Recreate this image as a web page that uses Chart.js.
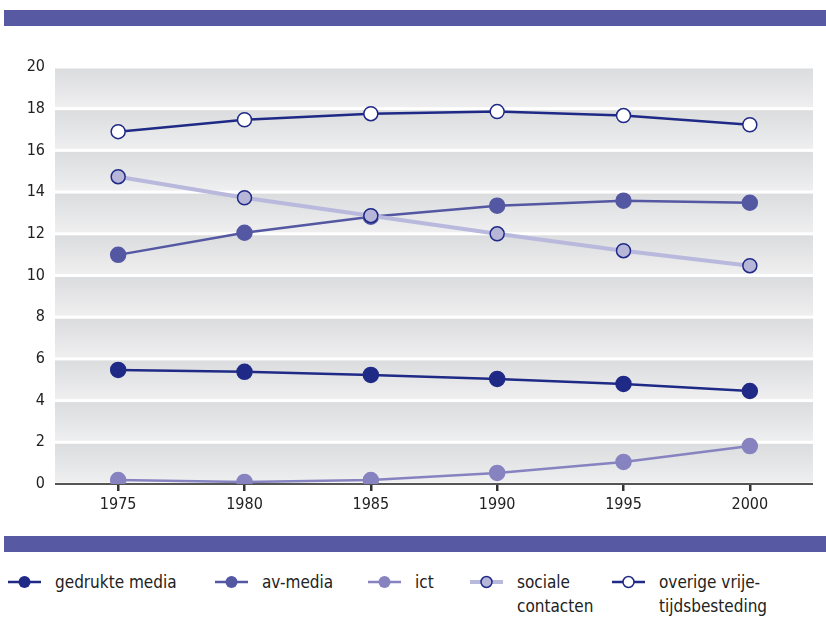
<!DOCTYPE html>
<html>
<head>
<meta charset="utf-8">
<script src="https://cdn.jsdelivr.net/npm/chart.js@4/dist/chart.umd.min.js"></script>
<style>
  html, body { margin: 0; padding: 0; background: #fff; }
  body { width: 826px; height: 618px; position: relative; overflow: hidden;
         font-family: 'Liberation Sans Narrow', 'DejaVu Sans Condensed', sans-serif; color: #222; }
  .bar { position: absolute; left: 4px; right: 0; height: 16px; background: #575aa3; }
  #chartBox { position: absolute; left: 0; top: 0; width: 826px; height: 530px; }
  #legend { position: absolute; left: 0; top: 570px; width: 826px; height: 48px; }
  .item { position: absolute; top: 0; display: flex; align-items: flex-start; font-size: 17px; line-height: 24px; }
  .item svg { margin-top: 5px; margin-right: 14px; }
</style>
</head>
<body>
<div class="bar" style="top:10px"></div>
<div id="chartBox"><canvas id="c"></canvas></div>
<div class="bar" style="top:536px"></div>
<div id="legend"></div>
<script>
// Years on the horizontal axis
const years = ['1975', '1980', '1985', '1990', '1995', '2000'];
// Hours per week by activity
const gedrukteMedia = [5.47, 5.38, 5.23, 5.04, 4.80, 4.46];
const avMedia       = [10.99, 12.05, 12.82, 13.35, 13.59, 13.49];
const ict           = [0.19, 0.10, 0.19, 0.53, 1.06, 1.82];
const socialeContacten = [14.74, 13.73, 12.87, 12.00, 11.19, 10.47];
const overigeVrijetijd = [16.90, 17.47, 17.76, 17.86, 17.67, 17.23];
// Legend labels
const seriesNames = ['gedrukte media', 'av-media', 'ict', 'sociale\ncontacten', 'overige vrije-\ntijdsbesteding'];
const yTicks = [0, 2, 4, 6, 8, 10, 12, 14, 16, 18, 20];

const NAVY = '#1f2a87';
const AV = '#5457a2';
const ICT = '#8683c0';
const SOC_LINE = '#b9b9dd';
const SOC_FILL = '#b7b6d9';

// Gradient bands between the horizontal grid values
const bandPlugin = {
  id: 'bands',
  beforeDatasetsDraw(chart) {
    const { ctx, chartArea, scales } = chart;
    const y = scales.y;
    ctx.save();
    for (let i = 0; i < yTicks.length - 1; i++) {
      const top = y.getPixelForValue(yTicks[i + 1]) + 1.5;
      const bot = y.getPixelForValue(yTicks[i]) - 1.5;
      const g = ctx.createLinearGradient(0, top, 0, bot);
      g.addColorStop(0, '#dbdcde');
      g.addColorStop(1, '#efeff0');
      ctx.fillStyle = g;
      ctx.fillRect(chartArea.left, top, chartArea.right - chartArea.left, bot - top);
    }
    // baseline
    const y0 = y.getPixelForValue(0);
    ctx.strokeStyle = '#555';
    ctx.lineWidth = 2;
    ctx.beginPath();
    ctx.moveTo(chartArea.left, y0);
    ctx.lineTo(chartArea.right, y0);
    ctx.stroke();
    ctx.restore();
  }
};

const datasets = [
  { label: seriesNames[0], data: gedrukteMedia, borderColor: NAVY, backgroundColor: NAVY,
    pointBackgroundColor: NAVY, pointBorderColor: NAVY, borderWidth: 2.5, order: 4 },
  { label: seriesNames[1], data: avMedia, borderColor: AV, backgroundColor: AV,
    pointBackgroundColor: AV, pointBorderColor: AV, borderWidth: 2.5, order: 3 },
  { label: seriesNames[2], data: ict, borderColor: ICT, backgroundColor: ICT,
    pointBackgroundColor: ICT, pointBorderColor: ICT, borderWidth: 2.5, order: 5 },
  { label: seriesNames[3], data: socialeContacten, borderColor: SOC_LINE, backgroundColor: SOC_FILL,
    pointBackgroundColor: SOC_FILL, pointBorderColor: NAVY, pointBorderWidth: 1.5, borderWidth: 4, order: 2 },
  { label: seriesNames[4], data: overigeVrijetijd, borderColor: NAVY, backgroundColor: '#fff',
    pointBackgroundColor: '#fff', pointBorderColor: NAVY, pointBorderWidth: 1.5, borderWidth: 2.5, order: 1 }
];
datasets.forEach(d => { d.pointRadius = 7; d.pointHoverRadius = 7; d.tension = 0; d.fill = false; });

const FONT = { family: "'Liberation Sans Narrow', 'DejaVu Sans Condensed', sans-serif", size: 16 };

new Chart(document.getElementById('c'), {
  type: 'line',
  data: { labels: years, datasets },
  plugins: [bandPlugin],
  options: {
    responsive: true,
    maintainAspectRatio: false,
    animation: false,
    layout: { padding: { top: 67, right: 13, bottom: 10, left: 0 } },
    plugins: { legend: { display: false }, tooltip: { enabled: false } },
    scales: {
      x: {
        offset: true,
        grid: { display: true, drawOnChartArea: false, color: '#333', lineWidth: 2.5, tickLength: 7, offset: false },
        border: { display: false },
        ticks: { color: '#222', font: FONT, padding: 4 },
        afterFit(s) { s.height = 36; }
      },
      y: {
        min: 0, max: 20,
        grid: { display: false, drawTicks: false },
        border: { display: false },
        ticks: { stepSize: 2, color: '#222', font: FONT, padding: 10 },
        afterFit(s) { s.width = 55; }
      }
    }
  }
});

// Legend built from the datasets
const legendX = [8, 215, 368, 470, 612];
const legendEl = document.getElementById('legend');
datasets.forEach((d, i) => {
  const item = document.createElement('div');
  item.className = 'item';
  item.style.left = legendX[i] + 'px';
  const lw = d.borderWidth;
  const fill = d.pointBackgroundColor;
  const stroke = d.pointBorderColor;
  const sw = d.pointBorderWidth || 0;
  item.innerHTML =
    `<svg width="33" height="14" viewBox="0 0 33 14">
       <line x1="0" y1="7" x2="33" y2="7" stroke="${d.borderColor}" stroke-width="${lw}"/>
       <circle cx="16.5" cy="7" r="${sw ? 5.5 : 6}" fill="${fill}" stroke="${stroke}" stroke-width="${sw || 0}"/>
     </svg><span>${d.label.replace('\n', '<br>')}</span>`;
  legendEl.appendChild(item);
});
</script>
</body>
</html>
